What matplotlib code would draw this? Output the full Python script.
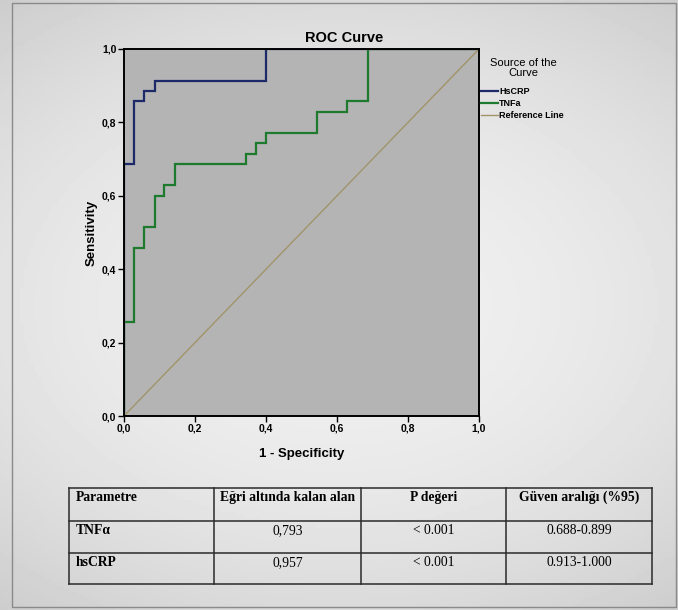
import matplotlib
matplotlib.use("Agg")
import matplotlib.pyplot as plt
from matplotlib.patches import Rectangle
import numpy as np

# ---- data ----
hscrp_fpr = [0.0, 0.0, 0.029, 0.029, 0.057, 0.057, 0.086, 0.086, 0.400, 0.400, 1.0]
hscrp_tpr = [0.0, 0.686, 0.686, 0.857, 0.857, 0.886, 0.886, 0.914, 0.914, 1.0, 1.0]

tnfa_fpr = [0.0, 0.0, 0.029, 0.029, 0.057, 0.057, 0.086, 0.086, 0.114, 0.114, 0.143, 0.143,
            0.343, 0.343, 0.371, 0.371, 0.400, 0.400, 0.543, 0.543, 0.629, 0.629, 0.686, 0.686, 1.0]
tnfa_tpr = [0.0, 0.257, 0.257, 0.457, 0.457, 0.514, 0.514, 0.600, 0.600, 0.629, 0.629, 0.686,
            0.686, 0.714, 0.714, 0.743, 0.743, 0.771, 0.771, 0.829, 0.829, 0.857, 0.857, 1.0, 1.0]

ref_x = [0.0, 1.0]
ref_y = [0.0, 1.0]

tick_vals = [0.0, 0.2, 0.4, 0.6, 0.8, 1.0]
tick_labels = ["0,0", "0,2", "0,4", "0,6", "0,8", "1,0"]

series_labels = ["HsCRP", "TNFa", "Reference Line"]

table_header = ["Parametre", "Eğri altında kalan alan", "P değeri", "Güven aralığı (%95)"]
table_rows = [
    ["TNFα", "0,793", "< 0.001", "0.688-0.899"],
    ["hsCRP", "0,957", "< 0.001", "0.913-1.000"],
]

# ---- figure ----
W, H = 678, 610
fig = plt.figure(figsize=(W / 100, H / 100), dpi=100)
fig.patch.set_facecolor("#dcdcdc")

# subtle background gradient
bg = fig.add_axes([0, 0, 1, 1], zorder=-10)
gx, gy = np.meshgrid(np.linspace(-1, 1, 200), np.linspace(-1, 1, 200))
grad = 1 - 0.5 * (gx ** 2 * 0.6 + gy ** 2)
bg.imshow(grad, cmap="gray", vmin=-4.5, vmax=1.35, extent=[0, 1, 0, 1], aspect="auto")
bg.set_axis_off()
fig.patches.append(Rectangle((12 / W, 1 - 607 / H), 664 / W, 604 / H, transform=fig.transFigure,
                             fill=False, edgecolor="#8a8a8a", linewidth=1.0))

sans = "Liberation Sans"
serif = "Liberation Serif"

ax = fig.add_axes([124 / W, 1 - 416 / H, 355 / W, 367 / H])
ax.set_facecolor("#b4b4b4")
ax.plot(hscrp_fpr, hscrp_tpr, color="#1c2a6a", lw=1.6, label=series_labels[0], solid_joinstyle="miter")
ax.plot(tnfa_fpr, tnfa_tpr, color="#1e7a2c", lw=1.6, label=series_labels[1], solid_joinstyle="miter")
ax.plot(ref_x, ref_y, color="#a1946a", lw=1.0, label=series_labels[2])
ax.set_xlim(0, 1)
ax.set_ylim(0, 1)
ax.set_xticks(tick_vals)
ax.set_xticklabels(tick_labels)
ax.set_yticks(tick_vals)
ax.set_yticklabels(tick_labels)
for t in ax.get_xticklabels() + ax.get_yticklabels():
    t.set_fontfamily(sans)
    t.set_fontweight("bold")
    t.set_fontsize(7.5)
ax.tick_params(direction="out", length=4, width=1.0, pad=1.5, colors="black")
for s in ax.spines.values():
    s.set_linewidth(1.4)
    s.set_color("black")
ax.set_xlabel("1 - Specificity", fontfamily=sans, fontweight="bold", fontsize=9.5, labelpad=10)
ax.set_ylabel("Sensitivity", fontfamily=sans, fontweight="bold", fontsize=9.5, labelpad=3)

fig.text(344 / W, 1 - 38 / H, "ROC Curve", fontfamily=sans, fontweight="bold", fontsize=10.5,
         ha="center", va="center")

# legend title
fig.text(523 / W, 1 - 68 / H, "Source of the\nCurve", fontfamily=sans, fontsize=8,
         ha="center", va="center", multialignment="center", linespacing=1.1)

leg = ax.legend(loc="upper left", bbox_to_anchor=(481 / W, 1 - 87 / H), bbox_transform=fig.transFigure,
                frameon=False, handlelength=1.9, handletextpad=0.1, labelspacing=0.32,
                borderaxespad=0.0, borderpad=0.0,
                prop={"family": sans, "weight": "bold", "size": 6.5})

# ---- table ----
tx0, tx1, ty0, ty1 = 69, 652, 488, 584
tab = fig.add_axes([tx0 / W, 1 - ty1 / H, (tx1 - tx0) / W, (ty1 - ty0) / H])
tab.set_xlim(0, tx1 - tx0)
tab.set_ylim(ty1 - ty0, 0)
tab.set_axis_off()
col_edges = [0, 145, 292, 437, 583]
row_edges = [0, 33, 65, 96]
for xe in col_edges:
    tab.plot([xe, xe], [row_edges[0], row_edges[-1]], color="#2a2a2a", lw=1.1, clip_on=False)
for ye in row_edges:
    tab.plot([col_edges[0], col_edges[-1]], [ye, ye], color="#2a2a2a", lw=1.1, clip_on=False)

all_rows = [table_header] + table_rows
for r, row in enumerate(all_rows):
    ytop = row_edges[r] + 3
    for c, txt in enumerate(row):
        bold = (r == 0) or (c == 0)
        if c == 0:
            x, ha = col_edges[0] + 7, "left"
        else:
            x, ha = (col_edges[c] + col_edges[c + 1]) / 2, "center"
        tab.text(x, ytop, txt, ha=ha, va="top", fontfamily=serif,
                 fontweight="bold" if bold else "normal", fontsize=9.8)

fig.savefig("out.png", dpi=100, facecolor=fig.get_facecolor())
